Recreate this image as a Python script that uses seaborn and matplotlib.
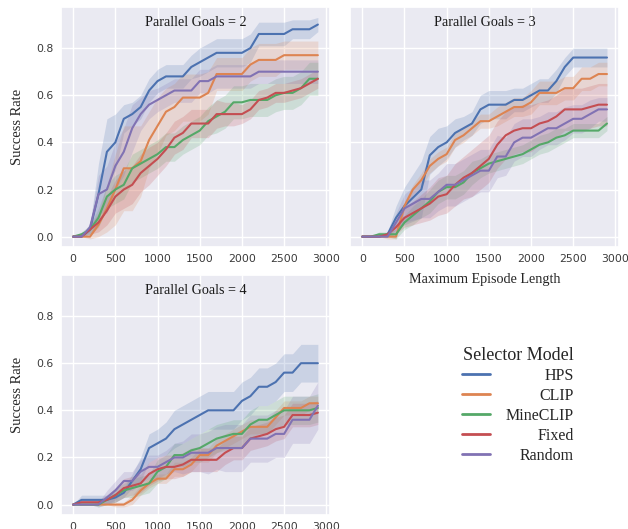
import numpy as np
import pandas as pd
import seaborn as sns
import matplotlib
matplotlib.use("Agg")
import matplotlib.pyplot as plt

# ---------------- data ----------------
steps = list(range(0, 3000, 100))
models = ["HPS", "CLIP", "MineCLIP", "Fixed", "Random"]
panel_titles = ["Parallel Goals = 2", "Parallel Goals = 3", "Parallel Goals = 4"]

# Parallel Goals = 2
g2_hps = [0, 0, .03, .18, .36, .40, .50, .52, .55, .62, .66, .68, .68, .68, .72, .74, .76, .78, .78, .78, .78, .80, .86, .86, .86, .86, .88, .88, .88, .90]
g2_clip = [0, 0, 0, .05, .12, .20, .29, .29, .32, .41, .47, .53, .55, .59, .59, .59, .61, .69, .69, .69, .69, .73, .75, .75, .75, .77, .77, .77, .77, .77]
g2_mineclip = [0, .01, .03, .08, .17, .20, .22, .29, .31, .33, .35, .38, .38, .41, .43, .45, .49, .51, .53, .57, .57, .58, .58, .58, .60, .61, .61, .63, .67, .67]
g2_fixed = [0, 0, .03, .06, .11, .17, .20, .22, .27, .30, .33, .37, .42, .44, .48, .48, .48, .52, .52, .52, .52, .54, .58, .59, .61, .61, .62, .63, .65, .67]
g2_random = [0, 0, .04, .18, .20, .30, .36, .46, .52, .56, .58, .60, .62, .62, .62, .66, .66, .68, .68, .68, .68, .68, .70, .70, .70, .70, .70, .70, .70, .70]

g2_hps_ci = [0, 0, .02, .13, .14, .12, .06, .05, .05, .05, .05, .05, .05, .05, .05, .06, .06, .06, .06, .06, .06, .06, .05, .05, .05, .05, .04, .04, .04, .03]
g2_clip_ci = [0, 0, .01, .05, .10, .15, .18, .18, .15, .12, .12, .10, .10, .10, .10, .10, .09, .07, .07, .07, .07, .07, .07, .07, .07, .06, .06, .06, .06, .06]
g2_mineclip_ci = [0, .01, .02, .04, .05, .06, .06, .06, .06, .06, .06, .06, .06, .06, .06, .06, .06, .07, .07, .07, .07, .07, .07, .07, .07, .07, .07, .07, .07, .07]
g2_fixed_ci = [0, 0, .02, .04, .06, .07, .08, .08, .08, .08, .07, .07, .07, .07, .06, .06, .06, .06, .05, .05, .04, .04, .04, .04, .04, .04, .04, .04, .04, .04]
g2_random_ci = [0, 0, .02, .08, .10, .10, .10, .10, .07, .06, .05, .05, .05, .05, .05, .05, .05, .05, .05, .05, .05, .05, .05, .05, .05, .05, .05, .05, .05, .05]

# Parallel Goals = 3
g3_hps = [0, 0, 0, .01, .08, .13, .165, .20, .345, .38, .40, .44, .46, .48, .54, .56, .56, .56, .58, .58, .60, .62, .62, .66, .72, .76, .76, .76, .76, .76]
g3_clip = [0, 0, 0, 0, 0, .13, .20, .24, .30, .33, .35, .41, .43, .46, .49, .49, .51, .53, .55, .55, .57, .61, .61, .61, .63, .63, .67, .67, .69, .69]
g3_mineclip = [0, 0, .01, .01, .01, .06, .09, .12, .15, .19, .21, .21, .23, .27, .29, .31, .32, .33, .34, .35, .37, .39, .40, .42, .43, .45, .45, .45, .45, .48]
g3_fixed = [0, 0, 0, .01, .04, .08, .10, .12, .14, .17, .18, .22, .25, .27, .30, .33, .39, .43, .45, .46, .46, .48, .49, .51, .54, .54, .54, .55, .56, .56]
g3_random = [0, 0, 0, 0, .06, .12, .14, .16, .16, .19, .22, .22, .24, .26, .28, .28, .34, .34, .40, .42, .42, .44, .46, .46, .48, .50, .50, .52, .54, .54]

g3_hps_ci = [0, 0, 0, .01, .05, .08, .10, .12, .08, .08, .07, .06, .05, .05, .06, .06, .06, .06, .05, .05, .05, .05, .05, .05, .04, .04, .04, .04, .04, .04]
g3_clip_ci = [0, 0, 0, .01, .01, .02, .02, .03, .03, .03, .03, .03, .03, .03, .03, .03, .04, .04, .04, .04, .05, .05, .05, .05, .05, .05, .05, .05, .05, .05]
g3_mineclip_ci = [0, 0, .01, .01, .02, .03, .04, .04, .05, .05, .05, .05, .05, .05, .04, .04, .04, .04, .04, .04, .04, .04, .04, .04, .03, .03, .03, .03, .03, .03]
g3_fixed_ci = [0, 0, 0, .01, .03, .04, .05, .06, .07, .08, .08, .09, .09, .10, .10, .10, .10, .10, .10, .10, .10, .09, .09, .09, .09, .09, .09, .09, .09, .09]
g3_random_ci = [0, 0, 0, 0, .04, .06, .07, .08, .08, .08, .09, .09, .09, .09, .09, .09, .09, .08, .08, .08, .08, .07, .07, .07, .07, .06, .06, .06, .05, .05]

# Parallel Goals = 4
g4_hps = [0, .02, .02, .02, .02, .03, .05, .10, .15, .24, .26, .28, .32, .34, .36, .38, .40, .40, .40, .40, .44, .46, .50, .50, .52, .56, .56, .60, .60, .60]
g4_clip = [0, 0, 0, 0, 0, 0, 0, .02, .06, .09, .11, .11, .15, .15, .17, .21, .21, .25, .27, .29, .31, .33, .33, .33, .37, .41, .41, .41, .43, .43]
g4_mineclip = [0, 0, 0, 0, .02, .04, .06, .07, .08, .09, .14, .16, .21, .21, .23, .24, .26, .28, .29, .30, .30, .34, .36, .36, .38, .40, .40, .40, .40, .41]
g4_fixed = [0, .01, .01, .01, .02, .04, .07, .08, .09, .13, .15, .16, .16, .17, .19, .19, .19, .19, .22, .24, .24, .28, .29, .30, .32, .33, .38, .38, .38, .39]
g4_random = [0, 0, 0, 0, .03, .06, .10, .10, .14, .16, .16, .18, .20, .20, .22, .22, .22, .24, .24, .24, .24, .28, .28, .28, .30, .30, .36, .36, .36, .42]

g4_hps_ci = [0, .02, .02, .02, .02, .02, .02, .03, .05, .06, .06, .07, .08, .08, .08, .08, .08, .08, .08, .08, .08, .08, .08, .08, .08, .08, .08, .08, .08, .08]
g4_clip_ci = [0, 0, 0, 0, 0, .01, .01, .02, .02, .02, .02, .02, .03, .03, .03, .03, .03, .03, .03, .03, .03, .03, .03, .03, .03, .03, .03, .03, .03, .03]
g4_mineclip_ci = [0, 0, 0, .01, .02, .03, .03, .04, .04, .04, .05, .05, .05, .05, .05, .06, .06, .06, .06, .06, .06, .06, .06, .06, .06, .06, .06, .06, .06, .06]
g4_fixed_ci = [0, .01, .01, .01, .02, .03, .04, .04, .04, .05, .05, .05, .05, .05, .05, .05, .05, .05, .05, .05, .05, .05, .05, .05, .05, .05, .05, .05, .05, .05]
g4_random_ci = [0, 0, 0, .01, .03, .04, .04, .04, .05, .05, .05, .05, .06, .07, .08, .08, .09, .09, .10, .10, .10, .10, .10, .10, .10, .10, .10, .10, .10, .10]

panels = [
    ([g2_hps, g2_clip, g2_mineclip, g2_fixed, g2_random],
     [g2_hps_ci, g2_clip_ci, g2_mineclip_ci, g2_fixed_ci, g2_random_ci]),
    ([g3_hps, g3_clip, g3_mineclip, g3_fixed, g3_random],
     [g3_hps_ci, g3_clip_ci, g3_mineclip_ci, g3_fixed_ci, g3_random_ci]),
    ([g4_hps, g4_clip, g4_mineclip, g4_fixed, g4_random],
     [g4_hps_ci, g4_clip_ci, g4_mineclip_ci, g4_fixed_ci, g4_random_ci]),
]

# ---------------- plot ----------------
sns.set_theme(style="darkgrid")
plt.rcParams["font.family"] = ["DejaVu Sans"]
serif = ["Liberation Serif", "DejaVu Serif"]
palette = sns.color_palette("deep", 5)

fig, axes = plt.subplots(2, 2, figsize=(6.28, 5.29), dpi=100, sharey=True)
fig.subplots_adjust(left=0.097, right=0.986, top=0.987, bottom=0.027,
                    wspace=0.074, hspace=0.117)
axes_list = [axes[0, 0], axes[0, 1], axes[1, 0]]
axes[1, 1].remove()

for ax, title, (means, cis) in zip(axes_list, panel_titles, panels):
    rows = []
    for m, vals in zip(models, means):
        for s, v in zip(steps, vals):
            rows.append({"step": s, "rate": v, "model": m})
    df = pd.DataFrame(rows)
    sns.lineplot(data=df, x="step", y="rate", hue="model", hue_order=models,
                 palette=palette, linewidth=1.5, ax=ax, legend=False,
                 errorbar=None)
    for c, vals, ci in zip(palette, means, cis):
        v = np.array(vals)
        e = np.array(ci)
        ax.fill_between(steps, v - e, v + e, color=c, alpha=0.2, linewidth=0)
    ax.text(0.5, 0.935, title, transform=ax.transAxes, ha="center",
            va="center", fontsize=10.2, family=serif, color="#1a1a1a")
    ax.set_xticks([0, 500, 1000, 1500, 2000, 2500, 3000])
    ax.set_yticks([0.0, 0.2, 0.4, 0.6, 0.8])
    ax.set_ylim(-0.043, 0.975)
    ax.tick_params(labelsize=7.8, pad=5, length=0, colors="#3a3a3a")
    ax.set_xlabel("")
    ax.set_ylabel("")

axes[0, 0].set_ylabel("Success Rate", family=serif, fontsize=10.5, labelpad=9)
axes[1, 0].set_ylabel("Success Rate", family=serif, fontsize=10.5, labelpad=9)
axes[0, 1].set_xlabel("Maximum Episode Length", family=serif, fontsize=10.2,
                      labelpad=7)
axes[0, 1].tick_params(axis="y", labelleft=False)

handles = [matplotlib.lines.Line2D([], [], color=c, lw=2) for c in palette]
leg = fig.legend(handles, models, loc="center", bbox_to_anchor=(0.825, 0.234),
                 frameon=False, title="Selector Model",
                 prop={"family": serif, "size": 11.5},
                 title_fontproperties={"family": serif, "size": 13},
                 handlelength=1.7, labelspacing=0.25, handletextpad=1.0)
fig.canvas.draw()
renderer = fig.canvas.get_renderer()
widths = [t.get_window_extent(renderer).width for t in leg.get_texts()]
wmax = max(widths)
for t, w in zip(leg.get_texts(), widths):
    t.set_position((wmax - w, 0))

fig.savefig("out.png", dpi=100)
